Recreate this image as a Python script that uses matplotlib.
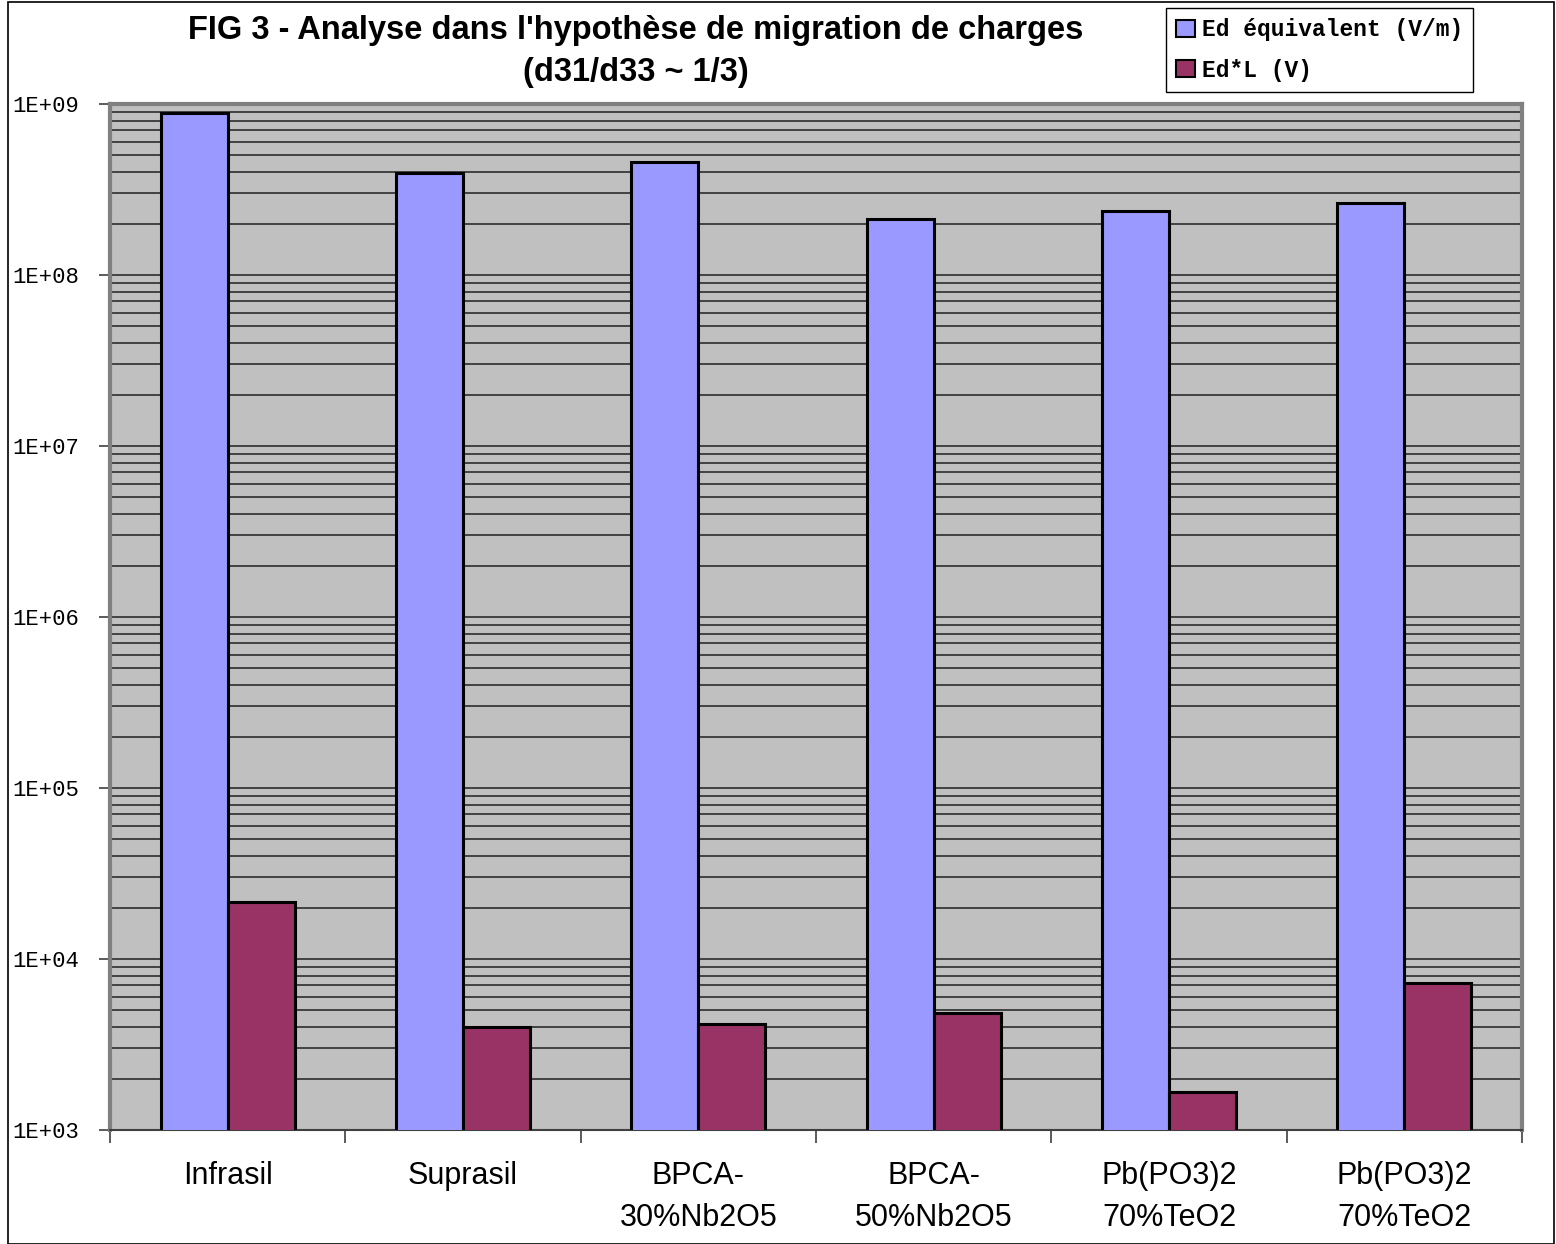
import matplotlib.pyplot as plt
import matplotlib.patches as mpatches
from matplotlib.ticker import LogLocator, NullFormatter, FixedLocator
import numpy as np

categories = ["Infrasil", "Suprasil", "BPCA-\n30%Nb2O5", "BPCA-\n50%Nb2O5",
              "Pb(PO3)2\n70%TeO2", "Pb(PO3)2\n70%TeO2"]
ed_equiv = [8.85e8, 3.95e8, 4.58e8, 2.12e8, 2.37e8, 2.64e8]
ed_l = [2.15e4, 4.0e3, 4.17e3, 4.83e3, 1.67e3, 7.25e3]
ytick_labels = ["1E+03", "1E+04", "1E+05", "1E+06", "1E+07", "1E+08", "1E+09"]

blue = "#9999FF"
red = "#993366"

fig = plt.figure(figsize=(15.56, 12.44), dpi=100)
ax = fig.add_axes([110/1556, 1 - 1130/1244, (1522-110)/1556, (1130-104)/1244])
ax.set_facecolor("#C0C0C0")

x = np.arange(len(categories))
w = 0.285
ax.bar(x - w/2, ed_equiv, w, color=blue, edgecolor="black", linewidth=2.2,
       label="Ed équivalent (V/m)", zorder=3)
ax.bar(x + w/2, ed_l, w, color=red, edgecolor="black", linewidth=2.2,
       label="Ed*L (V)", zorder=3)

ax.set_yscale("log")
ax.set_ylim(1e3, 1e9)
ax.set_xlim(-0.5, len(categories) - 0.5)

ax.yaxis.set_major_locator(FixedLocator([10.0**k for k in range(3, 10)]))
ax.set_yticklabels(ytick_labels, family="Liberation Mono", fontsize=16)
ax.yaxis.set_minor_locator(LogLocator(base=10, subs=np.arange(2, 10)))
ax.yaxis.set_minor_formatter(NullFormatter())
ax.tick_params(axis="y", which="major", direction="out", length=8, width=1.2,
               color="#404040", pad=14)
ax.tick_params(axis="y", which="minor", length=0)
ax.grid(True, axis="y", which="both", color="#202020", linewidth=1.1, zorder=0)

ax.set_xticks(x)
ax.set_xticklabels(categories, fontsize=22, family="Liberation Sans",
                   linespacing=1.55, va="top")
ax.tick_params(axis="x", which="major", length=0, pad=22)
ax.set_xticks(np.arange(-0.5, len(categories)), minor=True)
ax.tick_params(axis="x", which="minor", direction="out", length=9, width=1.2,
               color="#404040")

for s in ["top", "right", "left"]:
    ax.spines[s].set_color("#808080")
    ax.spines[s].set_linewidth(3)
ax.spines["bottom"].set_color("#404040")
ax.spines["bottom"].set_linewidth(1.5)

fig.text(636/1556, 1 - 31/1244, "FIG 3 - Analyse dans l'hypothèse de migration de charges",
         ha="center", va="center", fontsize=23.5, fontweight="bold", family="Liberation Sans")
fig.text(636/1556, 1 - 73/1244, "(d31/d33 ~ 1/3)",
         ha="center", va="center", fontsize=23.5, fontweight="bold", family="Liberation Sans")

leg = fig.legend(handles=[mpatches.Patch(facecolor=blue, edgecolor="black", linewidth=1.5,
                                         label="Ed équivalent (V/m)"),
                          mpatches.Patch(facecolor=red, edgecolor="black", linewidth=1.5,
                                         label="Ed*L (V)")],
                 loc="upper left", bbox_to_anchor=(1166/1556, 1 - 8/1244),
                 frameon=True, fancybox=False, edgecolor="black", framealpha=1,
                 prop={"family": "Liberation Mono", "weight": "bold", "size": 16.5},
                 handlelength=0.8, handleheight=0.8, handletextpad=0.3,
                 borderpad=0.45, labelspacing=0.75, borderaxespad=0)
leg.get_frame().set_linewidth(1)

fig.patches.append(mpatches.Rectangle((8/1556, 0), 1 - 8/1556 - 0.001, 1 - 2/1244,
                                      transform=fig.transFigure, fill=False,
                                      edgecolor="black", linewidth=1.2))

fig.savefig("out.png", dpi=100)
